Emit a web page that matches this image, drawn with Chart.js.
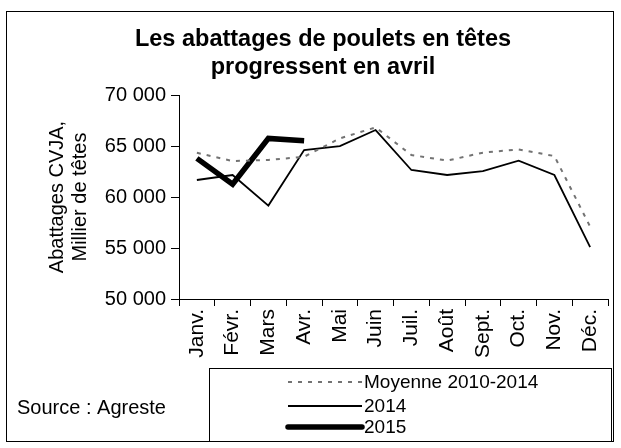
<!DOCTYPE html>
<html>
<head>
<meta charset="utf-8">
<script src="https://cdn.jsdelivr.net/npm/chart.js@4/dist/chart.umd.min.js"></script>
<style>
	html, body { margin: 0; padding: 0; background: #fff; }
	#wrap { width: 621px; height: 448px; }
</style>
</head>
<body>
<div id="wrap"><canvas id="chart" width="621" height="448"></canvas></div>
<script>
const months = ['Janv.', 'Févr.', 'Mars', 'Avr.', 'Mai', 'Juin', 'Juil.', 'Août', 'Sept.', 'Oct.', 'Nov.', 'Déc.']
const moyenne = [64340, 63530, 63630, 63950, 65750, 66830, 64120, 63570, 64350, 64670, 64020, 57100]
const values2014 = [61670, 62160, 59160, 64610, 65000, 66570, 62650, 62160, 62550, 63570, 62160, 55090]
const values2015 = [63790, 61250, 65750, 65520]
const titleLines = ['Les abattages de poulets en têtes', 'progressent en avril']
const yTitle = ['Abattages CVJA,', 'Millier de têtes']

const FONT = '"Liberation Sans", Arial, sans-serif'

const frame = {
	id: 'frame',
	beforeDraw(chart) {
		const ctx = chart.ctx
		ctx.save()
		ctx.fillStyle = '#fff'
		ctx.fillRect(0, 0, chart.width, chart.height)
		ctx.strokeStyle = '#000'
		ctx.lineWidth = 1
		ctx.strokeRect(6.5, 11.5, 607, 430)
		ctx.restore()
	},
	afterDraw(chart) {
		const ctx = chart.ctx
		ctx.save()
		// legend box, lines taken from the datasets
		ctx.strokeStyle = '#000'
		ctx.lineWidth = 1
		ctx.strokeRect(209.5, 368.5, 402, 73)
		ctx.font = '19px ' + FONT
		ctx.fillStyle = '#000'
		ctx.textBaseline = 'middle'
		const rows = [382, 406, 427]
		chart.data.datasets.forEach((ds, i) => {
			const y = rows[i]
			ctx.beginPath()
			ctx.strokeStyle = ds.borderColor
			ctx.lineWidth = ds.borderWidth
			ctx.setLineDash(ds.borderDash || [])
			ctx.lineCap = ds.borderWidth > 3 ? 'round' : 'butt'
			ctx.moveTo(288, y)
			ctx.lineTo(362, y)
			ctx.stroke()
			ctx.setLineDash([])
			ctx.fillText(ds.label, 364, y + 1)
		})
		ctx.font = '20px ' + FONT
		ctx.fillText('Source : Agreste', 17, 408)
		ctx.restore()
	},
}

new Chart(document.getElementById('chart').getContext('2d'), {
	type: 'line',
	data: {
		labels: months,
		datasets: [
			{
				label: 'Moyenne 2010-2014',
				data: moyenne,
				borderColor: '#737373',
				borderWidth: 2,
				borderDash: [4, 6],
				pointRadius: 0,
				tension: 0,
			},
			{
				label: '2014',
				data: values2014,
				borderColor: '#000',
				borderWidth: 1.8,
				pointRadius: 0,
				tension: 0,
			},
			{
				label: '2015',
				data: values2015,
				borderColor: '#000',
				borderWidth: 5.5,
				pointRadius: 0,
				tension: 0,
			},
		],
	},
	options: {
		responsive: false,
		animation: false,
		layout: { padding: { left: 38, right: 13, top: 11, bottom: 87 } },
		plugins: {
			legend: { display: false },
			tooltip: { enabled: false },
			title: {
				display: true,
				text: titleLines,
				color: '#000',
				font: { family: FONT, size: 23.5, weight: 'bold', lineHeight: 1.15 },
				padding: { top: 15.5, bottom: 14.5 },
			},
		},
		scales: {
			x: {
				offset: true,
				grid: { display: true, drawOnChartArea: false, offset: true, tickLength: 7, color: '#000' },
				border: { display: true, color: '#000' },
				ticks: {
					color: '#000',
					font: { family: FONT, size: 21 },
					minRotation: 90,
					maxRotation: 90,
					autoSkip: false,
					padding: 3,
				},
				afterFit(scale) { scale.height = 62 },
			},
			y: {
				min: 50000,
				max: 70000,
				grid: { display: true, drawOnChartArea: false, tickLength: 8, color: '#000' },
				border: { display: true, color: '#000' },
				ticks: {
					stepSize: 5000,
					color: '#000',
					font: { family: FONT, size: 20 },
					padding: 5,
					callback: (v) => v.toLocaleString('fr-FR').replace(/\s/g, ' '),
				},
				title: {
					display: true,
					text: yTitle,
					color: '#000',
					font: { family: FONT, size: 20, lineHeight: 1.15 },
					padding: { top: 7.5, bottom: 0 },
				},
				afterFit(scale) { scale.width = 141 },
			},
		},
	},
	plugins: [frame],
})
</script>
</body>
</html>
